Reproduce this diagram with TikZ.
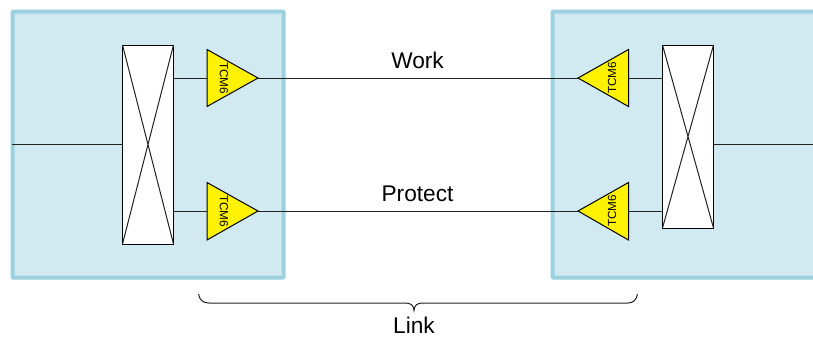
\documentclass[tikz,border=0pt]{standalone}
\usepackage{fontspec}
\setmainfont{Liberation Sans}
\definecolor{panelfill}{HTML}{D1E9F0}
\definecolor{paneledge}{HTML}{9CD1DF}
\definecolor{wirecol}{HTML}{222222}
\tikzset{
  panel/.style={draw=paneledge,fill=panelfill,line width=3pt,rounded corners=0.6pt},
  wire/.style={draw=wirecol,line width=0.75pt},
  mux/.style={draw=black,fill=white,line width=0.75pt,inner sep=0pt,outer sep=0pt,anchor=north west},
  tcmtri/.style={draw=black,fill=yellow,line width=0.75pt,line join=miter},
  tcmlabel/.style={font=\fontsize{8.8pt}{8.8pt}\selectfont,inner sep=0pt},
  biglabel/.style={font=\fontsize{17pt}{17pt}\selectfont,inner sep=0pt,text=black},
}
\begin{document}
\begin{tikzpicture}[x=0.75pt,y=-0.75pt]
\useasboundingbox (0,0) rectangle (813,337);
\clip (0,0) rectangle (813,337);
% panels
\node[panel,minimum width=271*0.75pt,minimum height=266*0.75pt,inner sep=0pt,outer sep=0pt,anchor=north west] (leftpanel) at (12.5,11.5) {};
\node[panel,minimum width=280*0.75pt,minimum height=266*0.75pt,inner sep=0pt,outer sep=0pt,anchor=north west] (rightpanel) at (552.5,11.5) {};
% muxes
\node[mux,minimum width=51*0.75pt,minimum height=199*0.75pt] (lmux) at (122.5,45) {};
\node[mux,minimum width=51*0.75pt,minimum height=183*0.75pt] (rmux) at (662.5,45) {};
\draw[wire] (lmux.north west) -- (lmux.south east) (lmux.north east) -- (lmux.south west);
\draw[wire] (rmux.north west) -- (rmux.south east) (rmux.north east) -- (rmux.south west);
% triangle corners
\coordinate (lta) at (207,49.5);  \coordinate (ltb) at (207,106.5); \coordinate (ltt) at (258,78); \coordinate (ltm) at (207,78);
\coordinate (lba) at (207,182.5); \coordinate (lbb) at (207,240); \coordinate (lbt) at (258,211); \coordinate (lbm) at (207,211);
\coordinate (rta) at (628.5,49.5);  \coordinate (rtb) at (628.5,106.5); \coordinate (rtt) at (578,78); \coordinate (rtm) at (628.5,78);
\coordinate (rba) at (628.5,182.5); \coordinate (rbb) at (628.5,240); \coordinate (rbt) at (578,211); \coordinate (rbm) at (628.5,211);
\coordinate (lin) at (12,144); \coordinate (rout) at (813,144);
% wires
\draw[wire] (lin) -- (lin -| lmux.west);
\draw[wire] (rout) -- (rout -| rmux.east);
\draw[wire] (ltm -| lmux.east) -- (ltm);
\draw[wire] (lbm -| lmux.east) -- (lbm);
\draw[wire] (rtm -| rmux.west) -- (rtm);
\draw[wire] (rbm -| rmux.west) -- (rbm);
\draw[wire] (ltt) -- (rtt);
\draw[wire] (lbt) -- (rbt);
% triangles
\draw[tcmtri] (lta) -- (ltt) -- (ltb) -- cycle;
\draw[tcmtri] (lba) -- (lbt) -- (lbb) -- cycle;
\draw[tcmtri] (rta) -- (rtt) -- (rtb) -- cycle;
\draw[tcmtri] (rba) -- (rbt) -- (rbb) -- cycle;
\node[tcmlabel,rotate=-90] (tl1) at (224,78) {TCM6};
\node[tcmlabel,rotate=-90] (tl2) at (224,211) {TCM6};
\node[tcmlabel,rotate=90] (tr1) at (612,78) {TCM6};
\node[tcmlabel,rotate=90] (tr2) at (612,211) {TCM6};
% labels
\node[biglabel] (work) at (417.5,60.5) {Work};
\node[biglabel] (protect) at (417.5,193.5) {Protect};
\node[biglabel] (link) at (414,325.5) {Link};
% brace
\draw[wire] (198.5,294) .. controls (199.5,300) and (203,303) .. (209,303)
  -- (405,303) .. controls (411,303) and (413.5,305) .. (414,310.5)
  .. controls (414.5,305) and (417,303) .. (423,303)
  -- (628,303) .. controls (633,303) and (636.5,300) .. (637.5,294);
\end{tikzpicture}
\end{document}
